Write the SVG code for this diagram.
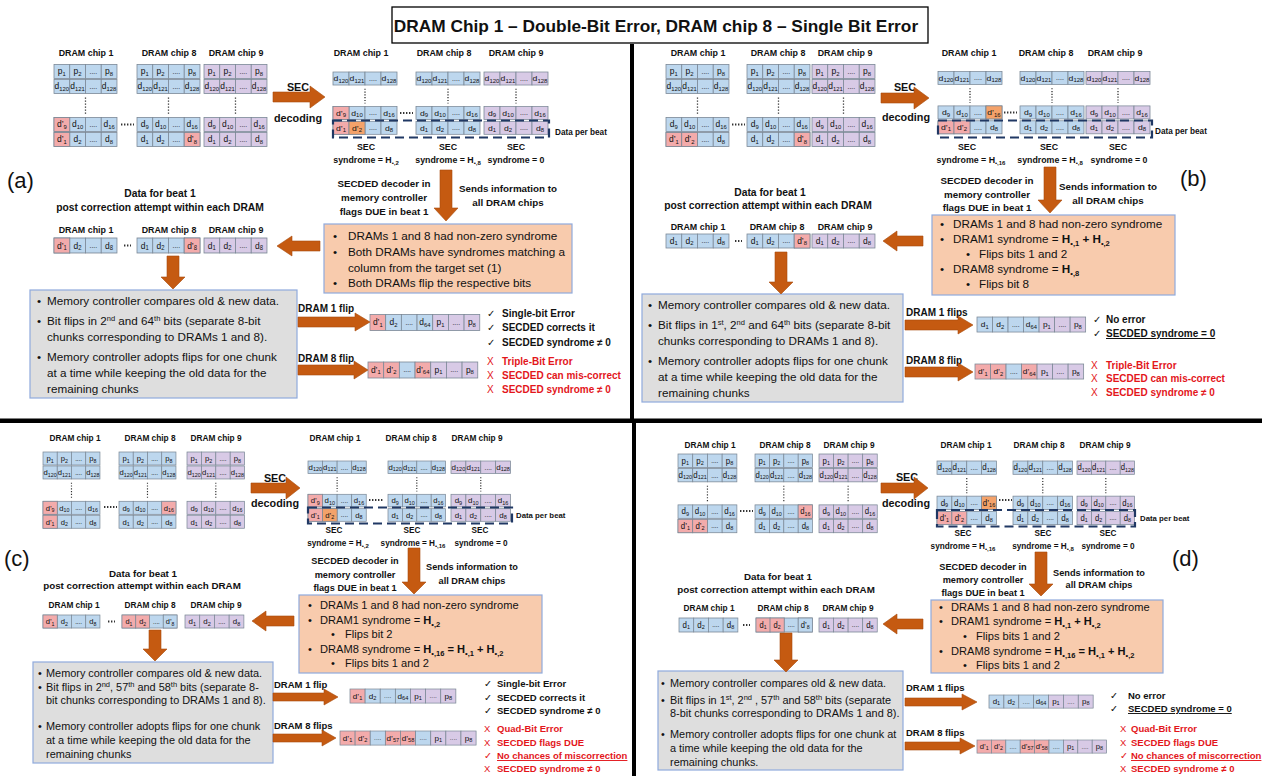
<svg xmlns="http://www.w3.org/2000/svg" width="1262" height="776" viewBox="0 0 1262 776">
<defs>
<style>
text{font-family:"Liberation Sans",Arial,"DejaVu Sans",sans-serif;fill:#111}
.c{font-size:8.6px;text-anchor:middle}
.e{font-size:7px}
.s{font-size:6px}
.s2{font-size:7.5px}
.sup{font-size:7.5px}
.lb{font-size:8.9px;font-weight:700;text-anchor:middle}
.lb2{font-size:8.3px;font-weight:700;text-anchor:middle}
.bd{font-size:9.8px;font-weight:700;text-anchor:middle}
.bd2{font-size:9.2px;font-weight:700;text-anchor:middle}
.sy{font-size:8.8px;font-weight:700;text-anchor:middle}
.sy2{font-size:8.2px;font-weight:700;text-anchor:middle}
.dp{font-size:8.2px;font-weight:700}
.sd{font-size:10.8px;font-weight:700;text-anchor:middle}
.db{font-size:10.3px;font-weight:700;text-anchor:middle}
.db2{font-size:9.8px;font-weight:700;text-anchor:middle}
.bx{font-size:11.7px}
.bx2{font-size:11.1px}
.bx3{font-size:10.9px}
.fl{font-size:10px;font-weight:700}
.fl2{font-size:9.5px;font-weight:700}
.ck{font-size:10px;font-weight:700}
.ck2{font-size:9.5px;font-weight:700}
.m{font-weight:400}
.rd{fill:#E3161B}
.b{font-weight:700}
.u{text-decoration:underline}
.q{font-size:22px}
.cb{fill:#BDD7EE;stroke:#7b8896;stroke-width:.8}
.cp{fill:#D8CAE6;stroke:#7b8896;stroke-width:.8}
.cr{fill:#F3ABAB;stroke:#7b8896;stroke-width:.8}
.co{fill:#F4A26A;stroke:#7b8896;stroke-width:.8}
.ar{fill:#C55A11;stroke:#A84C0E;stroke-width:.6}
.ob{fill:#F8CBAD;stroke:#8FAADC;stroke-width:1.2}
.gb{fill:#DEDEDE;stroke:#8FAADC;stroke-width:1.2}
.dot{stroke:#333;stroke-width:1.8;stroke-dasharray:1.4 1.6;fill:none}
.vd{stroke:#333;stroke-width:1.3;stroke-dasharray:1.2 1.8}
.dash{fill:none;stroke:#203864;stroke-width:2.2;stroke-dasharray:9 5}
</style>
<g id="bgB"><rect class="cb" width="16" height="14"/><rect class="cb" x="16" width="16" height="14"/><rect class="cb" x="32" width="16" height="14"/><rect class="cb" x="48" width="16" height="14"/></g>
<g id="bgP"><rect class="cp" width="16" height="14"/><rect class="cp" x="16" width="16" height="14"/><rect class="cp" x="32" width="16" height="14"/><rect class="cp" x="48" width="16" height="14"/></g>
<g id="tP"><text class="c" x="8" y="10">p<tspan class="s" dy="1.5">1</tspan></text><text class="c" x="24" y="10">p<tspan class="s" dy="1.5">2</tspan></text><text class="c e" x="40" y="9.5">....</text><text class="c" x="56" y="10">p<tspan class="s" dy="1.5">8</tspan></text></g>
<g id="tX"><text class="c" x="8" y="10">d<tspan class="s" dy="1.5">120</tspan></text><text class="c" x="24" y="10">d<tspan class="s" dy="1.5">121</tspan></text><text class="c e" x="40" y="9.5">....</text><text class="c" x="56" y="10">d<tspan class="s" dy="1.5">128</tspan></text></g>
<g id="t9"><text class="c" x="8" y="10">d<tspan class="s" dy="1.5">9</tspan></text><text class="c" x="24" y="10">d<tspan class="s" dy="1.5">10</tspan></text><text class="c e" x="40" y="9.5">....</text><text class="c" x="56" y="10">d<tspan class="s" dy="1.5">16</tspan></text></g>
<g id="t1"><text class="c" x="8" y="10">d<tspan class="s" dy="1.5">1</tspan></text><text class="c" x="24" y="10">d<tspan class="s" dy="1.5">2</tspan></text><text class="c e" x="40" y="9.5">....</text><text class="c" x="56" y="10">d<tspan class="s" dy="1.5">8</tspan></text></g>
<g id="S1B"><use href="#bgB"/><use href="#tP"/><use href="#bgB" y="15"/><use href="#tX" y="15"/><line class="vd" x1="32" y1="33" x2="32" y2="50"/><use href="#bgB" y="53"/><use href="#t9" y="53"/><use href="#bgB" y="68"/><use href="#t1" y="68"/></g>
<g id="S1P"><use href="#bgP"/><use href="#tP"/><use href="#bgP" y="15"/><use href="#tX" y="15"/><line class="vd" x1="32" y1="33" x2="32" y2="50"/><use href="#bgP" y="53"/><use href="#t9" y="53"/><use href="#bgP" y="68"/><use href="#t1" y="68"/></g>
<g id="S2B"><use href="#bgB"/><use href="#tX"/><line class="vd" x1="32" y1="18" x2="32" y2="34"/><use href="#bgB" y="37"/><use href="#t9" y="37"/><use href="#bgB" y="53"/><use href="#t1" y="53"/></g>
<g id="S2P"><use href="#bgP"/><use href="#tX"/><line class="vd" x1="32" y1="18" x2="32" y2="34"/><use href="#bgP" y="37"/><use href="#t9" y="37"/><use href="#bgP" y="53"/><use href="#t1" y="53"/></g>
<g id="R1B"><use href="#bgB"/><use href="#t1"/></g>
<g id="R1P"><use href="#bgP"/><use href="#t1"/></g>
<g id="q9r"><rect class="cr" width="16" height="14"/><text class="c" x="8" y="10">d’<tspan class="s" dy="1.5">9</tspan></text></g>
<g id="q1r"><rect class="cr" width="16" height="14"/><text class="c" x="8" y="10">d’<tspan class="s" dy="1.5">1</tspan></text></g>
<g id="q2r"><rect class="cr" width="16" height="14"/><text class="c" x="8" y="10">d’<tspan class="s" dy="1.5">2</tspan></text></g>
<g id="q2o"><rect class="co" width="16" height="14"/><text class="c" x="8" y="10">d’<tspan class="s" dy="1.5">2</tspan></text></g>
<g id="q8r"><rect class="cr" width="16" height="14"/><text class="c" x="8" y="10">d’<tspan class="s" dy="1.5">8</tspan></text></g>
<g id="q8b"><rect class="cb" width="16" height="14"/><text class="c" x="8" y="10">d’<tspan class="s" dy="1.5">8</tspan></text></g>
<g id="q16o"><rect class="co" width="16" height="14"/><text class="c" x="8" y="10">d’<tspan class="s" dy="1.5">16</tspan></text></g>
<g id="n16r"><rect class="cr" width="16" height="14"/><text class="c" x="8" y="10">d<tspan class="s" dy="1.5">16</tspan></text></g>
<g id="n1r"><rect class="cr" width="16" height="14"/><text class="c" x="8" y="10">d<tspan class="s" dy="1.5">1</tspan></text></g>
<g id="n2r"><rect class="cr" width="16" height="14"/><text class="c" x="8" y="10">d<tspan class="s" dy="1.5">2</tspan></text></g>
<g id="ptail"><rect class="cp" width="16" height="16"/><rect class="cp" x="16" width="16" height="16"/><rect class="cp" x="32" width="16" height="16"/><text class="c" x="8" y="11">p<tspan class="s" dy="1.5">1</tspan></text><text class="c e" x="24" y="10.5">....</text><text class="c" x="40" y="11">p<tspan class="s" dy="1.5">8</tspan></text></g>
<g id="f1a"><rect class="cr" width="16" height="16"/><rect class="cb" x="16" width="16" height="16"/><rect class="cb" x="32" width="16" height="16"/><rect class="cb" x="48" width="16" height="16"/><text class="c" x="8" y="11">d’<tspan class="s" dy="1.5">1</tspan></text><text class="c" x="24" y="11">d<tspan class="s" dy="1.5">2</tspan></text><text class="c e" x="40" y="10.5">....</text><text class="c" x="56" y="11">d<tspan class="s" dy="1.5">64</tspan></text><use href="#ptail" x="64"/></g>
<g id="f1b"><rect class="cb" width="16" height="16"/><rect class="cb" x="16" width="16" height="16"/><rect class="cb" x="32" width="16" height="16"/><rect class="cb" x="48" width="16" height="16"/><text class="c" x="8" y="11">d<tspan class="s" dy="1.5">1</tspan></text><text class="c" x="24" y="11">d<tspan class="s" dy="1.5">2</tspan></text><text class="c e" x="40" y="10.5">....</text><text class="c" x="56" y="11">d<tspan class="s" dy="1.5">64</tspan></text><use href="#ptail" x="64"/></g>
<g id="f8a"><rect class="cr" width="16" height="16"/><rect class="cr" x="16" width="16" height="16"/><rect class="cb" x="32" width="16" height="16"/><rect class="cr" x="48" width="16" height="16"/><text class="c" x="8" y="11">d’<tspan class="s" dy="1.5">1</tspan></text><text class="c" x="24" y="11">d’<tspan class="s" dy="1.5">2</tspan></text><text class="c e" x="40" y="10.5">....</text><text class="c" x="56" y="11">d’<tspan class="s" dy="1.5">64</tspan></text><use href="#ptail" x="64"/></g>
<g id="f8c"><rect class="cr" width="16" height="16"/><rect class="cr" x="16" width="16" height="16"/><rect class="cb" x="32" width="16" height="16"/><rect class="cr" x="48" width="16" height="16"/><rect class="cr" x="64" width="16" height="16"/><rect class="cb" x="80" width="16" height="16"/><text class="c" x="8" y="11">d’<tspan class="s" dy="1.5">1</tspan></text><text class="c" x="24" y="11">d’<tspan class="s" dy="1.5">2</tspan></text><text class="c e" x="40" y="10.5">....</text><text class="c" x="56" y="11">d’<tspan class="s" dy="1.5">57</tspan></text><text class="c" x="72" y="11">d’<tspan class="s" dy="1.5">58</tspan></text><text class="c e" x="88" y="10.5">....</text><use href="#ptail" x="96"/></g>
</defs>
<rect width="1262" height="776" fill="#fff"/>

<g id="title"><rect x="392" y="7" width="536" height="36" fill="#fff" stroke="#000" stroke-width="1.3"/><text x="656" y="32" style="font-size:17.3px;font-weight:700" text-anchor="middle">DRAM Chip 1 – Double-Bit Error, DRAM chip 8 – Single Bit Error</text></g>
<g id="dividers" fill="#000"><rect x="630" y="44" width="4" height="377"/><rect x="0" y="418.5" width="1262" height="4.5"/><rect x="632" y="420" width="4" height="356"/></g>

<!-- ============ (a) ============ -->
<g id="panel-a">
<text class="q" x="7" y="188">(a)</text>
<g id="a-stage1">
<text class="lb" x="86" y="56">DRAM chip 1</text><text class="lb" x="169" y="56">DRAM chip 8</text><text class="lb" x="236" y="56">DRAM chip 9</text>
<g id="a-s1-chip1" transform="translate(54 64.5) scale(.984 1)"><use href="#S1B"/><use href="#q9r" y="53"/><use href="#q1r" y="68"/></g>
<g id="a-s1-chip8" transform="translate(137 64.5) scale(.984 1)"><use href="#S1B"/><use href="#q8r" x="48" y="68"/></g>
<g id="a-s1-chip9" transform="translate(204 64.5) scale(.984 1)"><use href="#S1P"/></g>
<line class="dot" x1="121" y1="124.5" x2="134" y2="124.5"/>
<text class="sd" x="298" y="91">SEC</text><text class="sd" x="298" y="122">decoding</text>
</g>
<g id="a-stage2">
<text class="lb" x="361" y="56">DRAM chip 1</text><text class="lb" x="444" y="56">DRAM chip 8</text><text class="lb" x="516" y="56">DRAM chip 9</text>
<g id="a-s2-chip1" transform="translate(333 72) scale(1 .93)"><use href="#S2B"/><use href="#q9r" y="37"/><use href="#q1r" y="53"/><use href="#q2o" x="16" y="53"/></g>
<g id="a-s2-chip8" transform="translate(416 72) scale(1 .93)"><use href="#S2B"/></g>
<g id="a-s2-chip9" transform="translate(484 72) scale(1 .93)"><use href="#S2P"/></g>
<line class="dot" x1="400" y1="113" x2="413" y2="113"/>
<rect class="dash" x="333" y="120.5" width="216" height="17"/>
<text class="dp" x="555" y="135">Data per beat</text>
<text class="sy" x="366" y="150">SEC</text><text class="sy" x="448" y="150">SEC</text><text class="sy" x="516" y="150">SEC</text>
<text class="sy" x="366" y="163">syndrome = H<tspan class="s" dy="1.5">•,2</tspan></text>
<text class="sy" x="448" y="163">syndrome = H<tspan class="s" dy="1.5">•,8</tspan></text>
<text class="sy" x="516" y="163">syndrome = 0</text>
<text class="bd" x="384" y="187">SECDED decoder in</text><text class="bd" x="384" y="201">memory controller</text><text class="bd" x="384" y="215">flags DUE in beat 1</text>
<text class="bd" x="508" y="192">Sends information to</text><text class="bd" x="508" y="206">all DRAM chips</text>
</g>
<g id="a-orange">
<rect class="ob" x="324" y="224" width="248" height="69"/>
<text class="bx" x="333" y="240">•</text><text class="bx" x="348" y="240">DRAMs 1 and 8 had non-zero syndrome</text>
<text class="bx" x="333" y="256">•</text><text class="bx" x="348" y="256">Both DRAMs have syndromes matching a</text>
<text class="bx" x="348" y="272">column from the target set (1)</text>
<text class="bx" x="333" y="287">•</text><text class="bx" x="348" y="287">Both DRAMs flip the respective bits</text>
</g>
<g id="a-stage3">
<text class="db" x="160" y="197">Data for beat 1</text><text class="db" x="160" y="211">post correction attempt within each DRAM</text>
<text class="lb" x="86" y="233">DRAM chip 1</text><text class="lb" x="169" y="233">DRAM chip 8</text><text class="lb" x="236" y="233">DRAM chip 9</text>
<g transform="translate(54 238) scale(.984 1.07)"><use href="#R1B"/><use href="#q1r"/></g>
<g transform="translate(137 238) scale(.984 1.07)"><use href="#R1B"/><use href="#q8r" x="48"/></g>
<g transform="translate(204 238) scale(.984 1.07)"><use href="#R1P"/></g>
<line class="dot" x1="124" y1="245.5" x2="131" y2="245.5"/>
</g>
<g id="a-grey">
<rect class="gb" x="30" y="290" width="267" height="108"/>
<text class="bx" x="37" y="305">•</text><text class="bx" x="47" y="305">Memory controller compares old &amp; new data.</text>
<text class="bx" x="37" y="325">•</text><text class="bx" x="47" y="325">Bit flips in 2<tspan class="sup" dy="-4">nd</tspan><tspan dy="4"> and 64</tspan><tspan class="sup" dy="-4">th</tspan><tspan dy="4"> bits (separate 8-bit</tspan></text>
<text class="bx" x="47" y="341">chunks corresponding to DRAMs 1 and 8).</text>
<text class="bx" x="37" y="361">•</text><text class="bx" x="47" y="361">Memory controller adopts flips for one chunk</text>
<text class="bx" x="47" y="377">at a time while keeping the old data for the</text>
<text class="bx" x="47" y="393">remaining chunks</text>
</g>
<g id="a-flips">
<text class="fl" x="298" y="312">DRAM 1 flip</text>
<use href="#f1a" transform="translate(370 314.5) scale(.98 1)"/>
<text class="ck m" x="487" y="317">✓</text><text class="ck" x="502" y="317">Single-bit Error</text>
<text class="ck m" x="487" y="331">✓</text><text class="ck" x="502" y="331">SECDED corrects it</text>
<text class="ck m" x="487" y="346">✓</text><text class="ck" x="502" y="346">SECDED syndrome ≠ 0</text>
<text class="fl" x="298" y="362">DRAM 8 flip</text>
<use href="#f8a" transform="translate(368 362) scale(.98 1)"/>
<text class="ck m rd" x="487" y="365">X</text><text class="ck rd" x="502" y="365">Triple-Bit Error</text>
<text class="ck m rd" x="487" y="379">X</text><text class="ck rd" x="502" y="379">SECDED can mis-correct</text>
<text class="ck m rd" x="487" y="393">X</text><text class="ck rd" x="502" y="393">SECDED syndrome ≠ 0</text>
</g>
</g>

<!-- ============ (b) ============ -->
<g id="panel-b">
<text class="q" x="1180" y="186">(b)</text>
<g id="b-stage1">
<text class="lb" x="698" y="56">DRAM chip 1</text><text class="lb" x="778" y="56">DRAM chip 8</text><text class="lb" x="845" y="56">DRAM chip 9</text>
<g transform="translate(666 64.5) scale(.984 1)"><use href="#S1B"/><use href="#q1r" y="68"/><use href="#q2r" x="16" y="68"/></g>
<g transform="translate(747 64.5) scale(.984 1)"><use href="#S1B"/><use href="#q8r" x="48" y="68"/></g>
<g transform="translate(812 64.5) scale(.984 1)"><use href="#S1P"/></g>
<line class="dot" x1="732" y1="124.5" x2="745" y2="124.5"/>
<text class="sd" x="905" y="91">SEC</text><text class="sd" x="906" y="121">decoding</text>
</g>
<g id="b-stage2">
<text class="lb" x="969" y="56">DRAM chip 1</text><text class="lb" x="1046" y="56">DRAM chip 8</text><text class="lb" x="1115" y="56">DRAM chip 9</text>
<g transform="translate(938 71.5) scale(1 .93)"><use href="#S2B"/><use href="#q16o" x="48" y="37"/><use href="#q1r" y="53"/><use href="#q2r" x="16" y="53"/></g>
<g transform="translate(1020 71.5) scale(1 .93)"><use href="#S2B"/></g>
<g transform="translate(1086 71.5) scale(1 .93)"><use href="#S2P"/></g>
<line class="dot" x1="1004" y1="112.5" x2="1017" y2="112.5"/>
<rect class="dash" x="938" y="120.5" width="214" height="17"/>
<text class="dp" x="1155" y="134">Data per beat</text>
<text class="sy" x="967" y="150">SEC</text><text class="sy" x="1049" y="150">SEC</text><text class="sy" x="1118" y="150">SEC</text>
<text class="sy" x="971" y="163">syndrome = H<tspan class="s" dy="1.5">•,16</tspan></text>
<text class="sy" x="1050" y="163">syndrome = H<tspan class="s" dy="1.5">•,8</tspan></text>
<text class="sy" x="1119" y="163">syndrome = 0</text>
<text class="bd" x="987" y="184">SECDED decoder in</text><text class="bd" x="987" y="198">memory controller</text><text class="bd" x="987" y="211">flags DUE in beat 1</text>
<text class="bd" x="1108" y="190">Sends information to</text><text class="bd" x="1108" y="204">all DRAM chips</text>
</g>
<g id="b-orange">
<rect class="ob" x="932" y="215" width="243" height="80"/>
<text class="bx" x="940" y="228">•</text><text class="bx" x="953" y="228">DRAMs 1 and 8 had non-zero syndrome</text>
<text class="bx" x="940" y="243">•</text><text class="bx" x="953" y="243">DRAM1 syndrome = <tspan class="b">H</tspan><tspan class="b s2" dy="2.5">•,1</tspan><tspan class="b" dy="-2.5"> + H</tspan><tspan class="b s2" dy="2.5">•,2</tspan></text>
<text class="bx" x="966" y="258">•</text><text class="bx" x="979" y="258">Flips bits 1 and 2</text>
<text class="bx" x="940" y="273">•</text><text class="bx" x="953" y="273">DRAM8 syndrome = <tspan class="b">H</tspan><tspan class="b s2" dy="2.5">•,8</tspan></text>
<text class="bx" x="966" y="288">•</text><text class="bx" x="979" y="288">Flips bit 8</text>
</g>
<g id="b-stage3">
<text class="db" x="770" y="196">Data for beat 1</text><text class="db" x="768" y="209">post correction attempt within each DRAM</text>
<text class="lb" x="698" y="230">DRAM chip 1</text><text class="lb" x="777" y="230">DRAM chip 8</text><text class="lb" x="845" y="230">DRAM chip 9</text>
<g transform="translate(666 234) scale(.984 1)"><use href="#R1B"/></g>
<g transform="translate(747 234) scale(.984 1)"><use href="#R1B"/><use href="#q8r" x="48"/></g>
<g transform="translate(812 234) scale(.984 1)"><use href="#R1P"/></g>
<line class="dot" x1="735" y1="241" x2="742" y2="241"/>
</g>
<g id="b-grey">
<rect class="gb" x="642" y="294" width="261" height="108"/>
<text class="bx" x="648" y="309">•</text><text class="bx" x="658" y="309">Memory controller compares old &amp; new data.</text>
<text class="bx" x="648" y="329">•</text><text class="bx" x="658" y="329">Bit flips in 1<tspan class="sup" dy="-4">st</tspan><tspan dy="4">, 2</tspan><tspan class="sup" dy="-4">nd</tspan><tspan dy="4"> and 64</tspan><tspan class="sup" dy="-4">th</tspan><tspan dy="4"> bits (separate 8-bit</tspan></text>
<text class="bx" x="658" y="345">chunks corresponding to DRAMs 1 and 8).</text>
<text class="bx" x="648" y="365">•</text><text class="bx" x="658" y="365">Memory controller adopts flips for one chunk</text>
<text class="bx" x="658" y="381">at a time while keeping the old data for the</text>
<text class="bx" x="658" y="397">remaining chunks</text>
</g>
<g id="b-flips">
<text class="fl" x="906" y="316">DRAM 1 flips</text>
<use href="#f1b" transform="translate(977 317) scale(.97 .94)"/>
<text class="ck m" x="1093" y="323">✓</text><text class="ck" x="1106" y="323">No error</text>
<text class="ck m" x="1093" y="337">✓</text><text class="ck u" x="1106" y="337">SECDED syndrome = 0</text>
<text class="fl" x="906" y="364">DRAM 8 flip</text>
<use href="#f8a" transform="translate(975 364) scale(.97 .94)"/>
<text class="ck m rd" x="1091" y="369">X</text><text class="ck rd" x="1106" y="369">Triple-Bit Error</text>
<text class="ck m rd" x="1091" y="382">X</text><text class="ck rd" x="1106" y="382">SECDED can mis-correct</text>
<text class="ck m rd" x="1091" y="396">X</text><text class="ck rd" x="1106" y="396">SECDED syndrome ≠ 0</text>
</g>
</g>

<!-- ============ (c) ============ -->
<g id="panel-c">
<text class="q" x="4" y="566">(c)</text>
<g id="c-stage1">
<text class="lb2" x="75" y="441">DRAM chip 1</text><text class="lb2" x="150" y="441">DRAM chip 8</text><text class="lb2" x="216" y="441">DRAM chip 9</text>
<g transform="translate(43 452) scale(.89 .93)"><use href="#S1B"/><use href="#q9r" y="53"/><use href="#q1r" y="68"/></g>
<g transform="translate(119 452) scale(.89 .93)"><use href="#S1B"/><use href="#n16r" x="48" y="53"/></g>
<g transform="translate(187 452) scale(.9 .93)"><use href="#S1P"/></g>
<line class="dot" x1="104" y1="507" x2="117" y2="507"/>
<text class="sd" x="275" y="482">SEC</text><text class="sd" x="275" y="507">decoding</text>
</g>
<g id="c-stage2">
<text class="lb2" x="335" y="441">DRAM chip 1</text><text class="lb2" x="411" y="441">DRAM chip 8</text><text class="lb2" x="477" y="441">DRAM chip 9</text>
<g transform="translate(308 461) scale(.91 .9)"><use href="#S2B"/><use href="#q9r" y="37"/><use href="#q1r" y="53"/><use href="#q2o" x="16" y="53"/></g>
<g transform="translate(388 461) scale(.9 .9)"><use href="#S2B"/></g>
<g transform="translate(451 461) scale(.93 .9)"><use href="#S2P"/></g>
<line class="dot" x1="369" y1="500" x2="384" y2="500"/>
<rect class="dash" x="308" y="507.5" width="204" height="16"/>
<text class="dp" x="516" y="518" style="font-size:7.8px">Data per beat</text>
<text class="sy2" x="334" y="533">SEC</text><text class="sy2" x="412" y="533">SEC</text><text class="sy2" x="480" y="533">SEC</text>
<text class="sy2" x="338" y="546">syndrome = H<tspan class="s" dy="1.5">•,2</tspan></text>
<text class="sy2" x="413" y="546">syndrome = H<tspan class="s" dy="1.5">•,16</tspan></text>
<text class="sy2" x="481" y="546">syndrome = 0</text>
<text class="bd2" x="355" y="564">SECDED decoder in</text><text class="bd2" x="355" y="578">memory controller</text><text class="bd2" x="355" y="591">flags DUE in beat 1</text>
<text class="bd2" x="472" y="570">Sends information to</text><text class="bd2" x="472" y="584">all DRAM chips</text>
</g>
<g id="c-orange">
<rect class="ob" x="299" y="595" width="243" height="78"/>
<text class="bx2" x="308" y="609">•</text><text class="bx2" x="320" y="609">DRAMs 1 and 8 had non-zero syndrome</text>
<text class="bx2" x="308" y="624">•</text><text class="bx2" x="320" y="624">DRAM1 syndrome = <tspan class="b">H</tspan><tspan class="b s2" dy="2.5">•,2</tspan></text>
<text class="bx2" x="331" y="638">•</text><text class="bx2" x="345" y="638">Flips bit 2</text>
<text class="bx2" x="308" y="653">•</text><text class="bx2" x="320" y="653">DRAM8 syndrome = <tspan class="b">H</tspan><tspan class="b s2" dy="2.5">•,16</tspan><tspan class="b" dy="-2.5"> = H</tspan><tspan class="b s2" dy="2.5">•,1</tspan><tspan class="b" dy="-2.5"> + H</tspan><tspan class="b s2" dy="2.5">•,2</tspan></text>
<text class="bx2" x="331" y="667">•</text><text class="bx2" x="345" y="667">Flips bits 1 and 2</text>
</g>
<g id="c-stage3">
<text class="db2" x="143" y="577">Data for beat 1</text><text class="db2" x="142" y="589">post correction attempt within each DRAM</text>
<text class="lb2" x="74" y="608">DRAM chip 1</text><text class="lb2" x="150" y="608">DRAM chip 8</text><text class="lb2" x="216" y="608">DRAM chip 9</text>
<g transform="translate(43 615) scale(.89 .93)"><use href="#R1B"/><use href="#q1r"/></g>
<g transform="translate(122 615) scale(.86 .93)"><use href="#R1B"/><use href="#n1r"/><use href="#n2r" x="16"/><use href="#q8b" x="48"/></g>
<g transform="translate(185 615) scale(.92 .93)"><use href="#R1P"/></g>
<line class="dot" x1="108" y1="621.5" x2="115" y2="621.5"/>
</g>
<g id="c-grey">
<rect class="gb" x="33" y="662" width="240" height="101"/>
<text class="bx3" x="38" y="677">•</text><text class="bx3" x="46" y="677">Memory controller compares old &amp; new data.</text>
<text class="bx3" x="38" y="691">•</text><text class="bx3" x="46" y="691">Bit flips in 2<tspan class="sup" dy="-4">nd</tspan><tspan dy="4">, 57</tspan><tspan class="sup" dy="-4">th</tspan><tspan dy="4"> and 58</tspan><tspan class="sup" dy="-4">th</tspan><tspan dy="4"> bits (separate 8-</tspan></text>
<text class="bx3" x="46" y="704">bit chunks corresponding to DRAMs 1 and 8).</text>
<text class="bx3" x="38" y="730">•</text><text class="bx3" x="46" y="730">Memory controller adopts flips for one chunk</text>
<text class="bx3" x="46" y="744">at a time while keeping the old data for the</text>
<text class="bx3" x="46" y="758">remaining chunks</text>
</g>
<g id="c-flips">
<text class="fl2" x="274" y="688">DRAM 1 flip</text>
<use href="#f1a" transform="translate(350 689) scale(.945 .88)"/>
<text class="ck2 m" x="484" y="687">✓</text><text class="ck2" x="497" y="687">Single-bit Error</text>
<text class="ck2 m" x="484" y="701">✓</text><text class="ck2" x="497" y="701">SECDED corrects it</text>
<text class="ck2 m" x="484" y="714">✓</text><text class="ck2" x="497" y="714">SECDED syndrome ≠ 0</text>
<text class="fl2" x="274" y="729">DRAM 8 flips</text>
<use href="#f8c" transform="translate(340 731) scale(.945 .88)"/>
<text class="ck2 m rd" x="484" y="732">X</text><text class="ck2 rd" x="497" y="732">Quad-Bit Error</text>
<text class="ck2 m rd" x="484" y="746">X</text><text class="ck2 rd" x="497" y="746">SECDED flags DUE</text>
<text class="ck2 m rd" x="484" y="759">✓</text><text class="ck2 rd u" x="497" y="759">No chances of miscorrection</text>
<text class="ck2 m rd" x="484" y="772">X</text><text class="ck2 rd" x="497" y="772">SECDED syndrome ≠ 0</text>
</g>
</g>

<!-- ============ (d) ============ -->
<g id="panel-d">
<text class="q" x="1172" y="566">(d)</text>
<g id="d-stage1">
<text class="lb2" x="710" y="448">DRAM chip 1</text><text class="lb2" x="785" y="448">DRAM chip 8</text><text class="lb2" x="849" y="448">DRAM chip 9</text>
<g transform="translate(678 454) scale(.92 .96)"><use href="#S1B"/><use href="#q1r" y="68"/><use href="#q2r" x="16" y="68"/></g>
<g transform="translate(755 454) scale(.9 .96)"><use href="#S1B"/><use href="#n16r" x="48" y="53"/></g>
<g transform="translate(819 454) scale(.91 .96)"><use href="#S1P"/></g>
<line class="dot" x1="740" y1="511" x2="753" y2="511"/>
<text class="sd" x="907" y="481">SEC</text><text class="sd" x="906" y="507">decoding</text>
</g>
<g id="d-stage2">
<text class="lb2" x="966" y="448">DRAM chip 1</text><text class="lb2" x="1039" y="448">DRAM chip 8</text><text class="lb2" x="1105" y="448">DRAM chip 9</text>
<g transform="translate(937 461) scale(.93 .95)"><use href="#S2B"/><use href="#q16o" x="48" y="37"/><use href="#q1r" y="53"/><use href="#q2r" x="16" y="53"/></g>
<g transform="translate(1013 461) scale(.93 .95)"><use href="#S2B"/></g>
<g transform="translate(1077 461) scale(.9 .95)"><use href="#S2P"/></g>
<line class="dot" x1="999" y1="500" x2="1012" y2="500"/>
<rect class="dash" x="937" y="510" width="198" height="16.5"/>
<text class="dp" x="1140" y="521" style="font-size:7.8px">Data per beat</text>
<text class="sy2" x="963" y="536">SEC</text><text class="sy2" x="1043" y="536">SEC</text><text class="sy2" x="1108" y="536">SEC</text>
<text class="sy2" x="963" y="549">syndrome = H<tspan class="s" dy="1.5">•,16</tspan></text>
<text class="sy2" x="1043" y="549">syndrome = H<tspan class="s" dy="1.5">•,8</tspan></text>
<text class="sy2" x="1108" y="549">syndrome = 0</text>
<text class="bd2" x="983" y="570">SECDED decoder in</text><text class="bd2" x="983" y="583">memory controller</text><text class="bd2" x="983" y="596">flags DUE in beat 1</text>
<text class="bd2" x="1099" y="576">Sends information to</text><text class="bd2" x="1099" y="588">all DRAM chips</text>
</g>
<g id="d-orange">
<rect class="ob" x="931" y="600" width="232" height="73"/>
<text class="bx2" x="939" y="611">•</text><text class="bx2" x="951" y="611">DRAMs 1 and 8 had non-zero syndrome</text>
<text class="bx2" x="939" y="625">•</text><text class="bx2" x="951" y="625">DRAM1 syndrome = <tspan class="b">H</tspan><tspan class="b s2" dy="2.5">•,1</tspan><tspan class="b" dy="-2.5"> + H</tspan><tspan class="b s2" dy="2.5">•,2</tspan></text>
<text class="bx2" x="963" y="640">•</text><text class="bx2" x="976" y="640">Flips bits 1 and 2</text>
<text class="bx2" x="939" y="655">•</text><text class="bx2" x="951" y="655">DRAM8 syndrome = <tspan class="b">H</tspan><tspan class="b s2" dy="2.5">•,16</tspan><tspan class="b" dy="-2.5"> = H</tspan><tspan class="b s2" dy="2.5">•,1</tspan><tspan class="b" dy="-2.5"> + H</tspan><tspan class="b s2" dy="2.5">•,2</tspan></text>
<text class="bx2" x="963" y="669">•</text><text class="bx2" x="976" y="669">Flips bits 1 and 2</text>
</g>
<g id="d-stage3">
<text class="db2" x="778" y="580">Data for beat 1</text><text class="db2" x="776" y="593">post correction attempt within each DRAM</text>
<text class="lb2" x="709" y="611">DRAM chip 1</text><text class="lb2" x="783" y="611">DRAM chip 8</text><text class="lb2" x="848" y="611">DRAM chip 9</text>
<g transform="translate(679 618) scale(.92 1)"><use href="#R1B"/></g>
<g transform="translate(756 618) scale(.88 1)"><use href="#R1B"/><use href="#n1r"/><use href="#n2r" x="16"/><use href="#q8b" x="48"/></g>
<g transform="translate(819 618) scale(.91 1)"><use href="#R1P"/></g>
<line class="dot" x1="743" y1="625" x2="750" y2="625"/>
</g>
<g id="d-grey">
<rect class="gb" x="658" y="671" width="245" height="99"/>
<text class="bx3" x="661" y="687">•</text><text class="bx3" x="670" y="687">Memory controller compares old &amp; new data.</text>
<text class="bx3" x="661" y="704">•</text><text class="bx3" x="670" y="704">Bit flips in 1<tspan class="sup" dy="-4">st</tspan><tspan dy="4">, 2</tspan><tspan class="sup" dy="-4">nd</tspan><tspan dy="4"> , 57</tspan><tspan class="sup" dy="-4">th</tspan><tspan dy="4"> and 58</tspan><tspan class="sup" dy="-4">th</tspan><tspan dy="4"> bits (separate</tspan></text>
<text class="bx3" x="670" y="717">8-bit chunks corresponding to DRAMs 1 and 8).</text>
<text class="bx3" x="661" y="738">•</text><text class="bx3" x="670" y="738">Memory controller adopts flips for one chunk at</text>
<text class="bx3" x="670" y="752">a time while keeping the old data for the</text>
<text class="bx3" x="670" y="766">remaining chunks.</text>
</g>
<g id="d-flips">
<text class="fl2" x="906" y="691">DRAM 1 flips</text>
<use href="#f1b" transform="translate(989 695) scale(.93 .82)"/>
<text class="ck2 m" x="1110" y="699">✓</text><text class="ck2" x="1128" y="699">No error</text>
<text class="ck2 m" x="1110" y="712">✓</text><text class="ck2 u" x="1128" y="712">SECDED syndrome = 0</text>
<text class="fl2" x="906" y="736">DRAM 8 flips</text>
<use href="#f8c" transform="translate(977 740) scale(.9 .82)"/>
<text class="ck2 m rd" x="1120" y="732">X</text><text class="ck2 rd" x="1131" y="732">Quad-Bit Error</text>
<text class="ck2 m rd" x="1120" y="746">X</text><text class="ck2 rd" x="1131" y="746">SECDED flags DUE</text>
<text class="ck2 m rd" x="1120" y="759">✓</text><text class="ck2 rd u" x="1131" y="759">No chances of miscorrection</text>
<text class="ck2 m rd" x="1120" y="772">X</text><text class="ck2 rd" x="1131" y="772">SECDED syndrome ≠ 0</text>
</g>
</g>

<!-- ============ connectors ============ -->
<g id="connectors" class="ar">
<polygon class="ar" points="273,92 310,92 310,86 325,97 310,108 310,102 273,102"/>
<polygon class="ar" points="440,170 452,170 452,208 458,208 446,221 434,208 440,208"/>
<polygon class="ar" points="277,246 292,236 292,241 320,241 320,251 292,251 292,256"/>
<polygon class="ar" points="167,256 179,256 179,277 185,277 173,289 161,277 167,277"/>
<polygon class="ar" points="298,317 355,317 355,313 370,322 355,331 355,327 298,327"/>
<polygon class="ar" points="298,365 354,365 354,361 368,370 354,379 354,375 298,375"/>

<polygon class="ar" points="881,93 914,93 914,87 929,98 914,109 914,103 881,103"/>
<polygon class="ar" points="1044,167 1056,167 1056,200 1062,200 1050,213 1038,200 1044,200"/>
<polygon class="ar" points="883,241 897,231 897,236 923,236 923,246 897,246 897,251"/>
<polygon class="ar" points="775,252 787,252 787,282 793,282 781,294 769,282 775,282"/>
<polygon class="ar" points="905,320 958,320 958,316 973,325 958,334 958,330 905,330"/>
<polygon class="ar" points="905,367 958,367 958,363 973,372 958,381 958,377 905,377"/>

<polygon class="ar" points="251,483 286,483 286,477 300,488 286,499 286,493 251,493"/>
<polygon class="ar" points="408,548 420,548 420,582 426,582 414,594 402,582 408,582"/>
<polygon class="ar" points="252,621 266,611 266,616 294,616 294,626 266,626 266,631"/>
<polygon class="ar" points="149,630 161,630 161,649 167,649 155,661 143,649 149,649"/>
<polygon class="ar" points="273,693 324,693 324,689 338,697 324,705 324,701 273,701"/>
<polygon class="ar" points="273,734 322,734 322,730 336,738 322,746 322,742 273,742"/>

<polygon class="ar" points="881,483 914,483 914,477 928,488 914,499 914,493 881,493"/>
<polygon class="ar" points="1035,552 1047,552 1047,584 1053,584 1041,596 1029,584 1035,584"/>
<polygon class="ar" points="883,624 897,614 897,619 923,619 923,629 897,629 897,634"/>
<polygon class="ar" points="780,633 792,633 792,660 798,660 786,672 774,660 780,660"/>
<polygon class="ar" points="905,698 962,698 962,694 977,702 962,710 962,706 905,706"/>
<polygon class="ar" points="905,742 960,742 960,738 975,746 960,754 960,750 905,750"/>
</g>
</svg>
